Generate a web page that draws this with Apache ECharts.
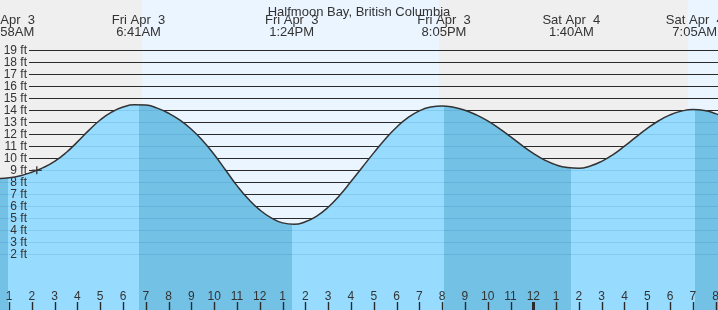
<!DOCTYPE html>
<html><head><meta charset="utf-8">
<script src="https://cdn.jsdelivr.net/npm/echarts@6/dist/echarts.min.js"></script>
<style>html,body{margin:0;padding:0;background:#efefef;overflow:hidden}#c{width:718px;height:310px}</style>
</head><body><div id="c"></div>
<script>
// ---------- data ----------
const chartTitle = 'Halfmoon Bay, British Columbia';
// hours since midnight Fri Apr 3
const tideHours = [0.5,1,1.5,2,2.5,3,3.5,4,4.5,5,5.5,6,6.5,7,7.5,8,8.5,9,9.5,10,10.5,11,11.5,12,12.5,13,13.5,14,14.5,15,15.5,16,16.5,17,17.5,18,18.5,19,19.5,20,20.5,21,21.5,22,22.5,23,23.5,24,24.5,25,25.5,26,26.5,27,27.5,28,28.5,29,29.5,30,30.5,31,31.5,32,32.5];
const tideHeights = [8.32,8.38,8.55,8.84,9.22,9.74,10.46,11.37,12.33,13.19,13.85,14.27,14.46,14.44,14.18,13.76,13.18,12.42,11.47,10.32,9.02,7.72,6.60,5.70,5.04,4.62,4.50,4.71,5.18,5.92,6.91,8.06,9.26,10.45,11.59,12.59,13.39,13.95,14.27,14.36,14.25,14.00,13.62,13.12,12.50,11.80,11.08,10.41,9.85,9.45,9.23,9.17,9.36,9.75,10.31,11.01,11.76,12.49,13.13,13.62,13.93,14.06,13.99,13.72,13.32];
const extremeHours = [0.967, 6.683, 13.4, 20.083, 25.667, 31.083];
const extremeTypes = ['L','H','L','H','L','H'];
const extremeDays = ['Fri Apr  3','Fri Apr  3','Fri Apr  3','Fri Apr  3','Sat Apr  4','Sat Apr  4'];
const extremeClock = ['12:58AM','6:41AM','1:24PM','8:05PM','1:40AM','7:05AM'];
const sunEvents = [6.83, 19.87, 30.78];       // sunrise, sunset, sunrise
const nowHour = 2.22, nowHeight = 9.0;
const ftLevels = [2,3,4,5,6,7,8,9,10,11,12,13,14,15,16,17,18,19];
const hourTicks = [1,2,3,4,5,6,7,8,9,10,11,12,13,14,15,16,17,18,19,20,21,22,23,24,25,26,27,28,29,30,31,32];
const hourMin = 0, hourMax = 33, ftMin = -3, ftMax = 24;

// ---------- layout / style ----------
const W = 718, H = 310;
const PX_H = 22.796, X_H0 = -13.8;   // pixel x of hour 0
const PX_FT = 12, Y_FT0 = 278.3;     // pixel y of 0 ft
const TICK_TOP = 302;
const FONT = '"Liberation Sans", Arial, sans-serif';
const C = {night:'#efefef', day:'#ebf5ff', light:'#97dcff', dark:'#73c1e5',
           grid:'#2a2a2a', inner:'rgba(0,80,140,0.12)', text:'#333', curve:'#333'};

const gLeft = X_H0 + hourMin*PX_H, gRight = W - (X_H0 + hourMax*PX_H);
const gTop = Y_FT0 - ftMax*PX_FT, gBottom = H - (Y_FT0 - ftMin*PX_FT);

const tidePairs = tideHours.map((h,i)=>[h, tideHeights[i]]);

// falling tide (high -> low) darker
const pieces = [];
pieces.push({lt: extremeHours[0], color: extremeTypes[0]==='L' ? C.dark : C.light});
for (let i=0;i<extremeHours.length-1;i++)
  pieces.push({gte: extremeHours[i], lt: extremeHours[i+1], color: extremeTypes[i]==='H' ? C.dark : C.light});
pieces.push({gte: extremeHours[extremeHours.length-1], color: extremeTypes[extremeTypes.length-1]==='H' ? C.dark : C.light});

// night/day bands
const bandEdges = [hourMin].concat(sunEvents, [hourMax]);
const bands = [];
for (let i=0;i<bandEdges.length-1;i++) bands.push([bandEdges[i], bandEdges[i+1], i%2]); // 0 night, 1 day

function segmentsAbove(level){
  const segs=[]; let s=null;
  for (let i=0;i<tideHours.length;i++){
    const above = tideHeights[i] > level;
    if (i===0){ if (above) s = tideHours[0]; continue; }
    const prevAbove = tideHeights[i-1] > level;
    if (above !== prevAbove){
      const t = tideHours[i-1] + (level - tideHeights[i-1])/(tideHeights[i]-tideHeights[i-1])*(tideHours[i]-tideHours[i-1]);
      if (above) s = t; else { segs.push([s,t]); s=null; }
    }
  }
  if (s!==null) segs.push([s, tideHours[tideHours.length-1]]);
  return segs;
}

const chart = echarts.init(document.getElementById('c'), null, {renderer:'canvas', width:W, height:H});
chart.setOption({
  animation:false,
  backgroundColor: C.night,
  title:{text:chartTitle, left:'center', top:1, textStyle:{fontSize:13, fontWeight:'normal', color:C.text, fontFamily:FONT}},
  grid:[
    {left:gLeft, right:gRight, top:gTop, bottom:gBottom, containLabel:false, outerBoundsMode:'none'},
    {left:29, right:gRight, top:gTop, bottom:gBottom, containLabel:false, outerBoundsMode:'none'}
  ],
  xAxis:[
    {gridIndex:0, type:'value', min:hourMin, max:hourMax, interval:1, position:'bottom', z:6,
     axisLine:{show:false, onZero:false}, splitLine:{show:false}, axisTick:{show:false},
     axisLabel:{show:true, inside:true, margin:12, fontSize:12, color:C.text, fontFamily:FONT, lineHeight:12,
       formatter:v=>String((v%12)||12)}},
    {gridIndex:1, type:'value', min:0, max:1, show:false, axisLine:{onZero:false}, splitLine:{show:false}}
  ],
  yAxis:[
    {gridIndex:0, type:'value', min:ftMin, max:ftMax, interval:1, show:false, axisLine:{onZero:false}, splitLine:{show:false}},
    {gridIndex:1, type:'value', min:ftMin, max:ftMax, interval:1, position:'left', z:6,
     axisLine:{show:false, onZero:false}, axisTick:{show:false}, splitLine:{show:false},
     axisLabel:{show:true, margin:2, fontSize:12, color:C.text, fontFamily:FONT,
       formatter:v=>(ftLevels.indexOf(v)>=0 ? v+' ft' : '')}}
  ],
  visualMap:{type:'piecewise', show:false, dimension:0, seriesIndex:2, pieces:pieces},
  series:[
    // day / night background
    {type:'custom', xAxisIndex:0, yAxisIndex:0, z:0, silent:true, data:bands,
     renderItem:(params, api)=>{
       const x1 = api.coord([api.value(0), 0])[0], x2 = api.coord([api.value(1), 0])[0];
       const cs = params.coordSys;
       return {type:'rect', shape:{x:x1, y:cs.y, width:x2-x1, height:cs.height},
               style:{fill: api.value(2)===1 ? C.day : C.night}};
     }},
    // black level lines (start right of the labels)
    {type:'custom', xAxisIndex:1, yAxisIndex:1, z:1, silent:true, data:ftLevels.map(v=>[0, v]),
     renderItem:(params, api)=>{
       const p1 = api.coord([0, api.value(1)]), p2 = api.coord([1, api.value(1)]);
       const y = Math.floor(p1[1]) + 0.5;
       return {type:'line', shape:{x1:p1[0], y1:y, x2:p2[0], y2:y}, style:{stroke:C.grid, lineWidth:1}};
     }},
    // water area
    {type:'line', xAxisIndex:0, yAxisIndex:0, z:2, data:tidePairs, smooth:true, showSymbol:false, silent:true,
     lineStyle:{width:0, opacity:0}, areaStyle:{opacity:1, origin:'start'}},
    // level lines inside water
    {type:'custom', xAxisIndex:0, yAxisIndex:0, z:3, silent:true, data:ftLevels.map(v=>[hourMin, v]),
     renderItem:(params, api)=>{
       const level = api.value(1);
       const children = segmentsAbove(level).map(seg=>{
         const p1 = api.coord([seg[0], level]), p2 = api.coord([seg[1], level]);
         const y = Math.floor(p1[1]) + 0.5;
         return {type:'line', shape:{x1:p1[0], y1:y, x2:p2[0], y2:y}, style:{stroke:C.inner, lineWidth:1}};
       });
       return {type:'group', children:children};
     }},
    // tide curve
    {type:'line', xAxisIndex:0, yAxisIndex:0, z:4, data:tidePairs, smooth:true, showSymbol:false, silent:true,
     lineStyle:{width:1.5, color:C.curve}},
    // current time marker
    {type:'custom', xAxisIndex:0, yAxisIndex:0, z:5, silent:true, data:[[nowHour, nowHeight]],
     renderItem:(params, api)=>{
       const p = api.coord([api.value(0), api.value(1)]);
       return {type:'group', children:[
         {type:'line', shape:{x1:p[0]-5, y1:p[1], x2:p[0]+5, y2:p[1]}, style:{stroke:C.curve, lineWidth:1.3}},
         {type:'line', shape:{x1:p[0], y1:p[1]-4, x2:p[0], y2:p[1]+4}, style:{stroke:C.curve, lineWidth:1.3}}
       ]};
     }},
    // high / low labels
    {type:'custom', xAxisIndex:0, yAxisIndex:0, z:5, silent:true, data:extremeHours.map((h,i)=>[h,i]),
     renderItem:(params, api)=>{
       const i = api.value(1);
       const x = api.coord([api.value(0), 0])[0];
       return {type:'text', x:x, y:14,
         style:{text: extremeDays[i]+'\n'+extremeClock[i], align:'center', textAlign:'center',
                verticalAlign:'top', textVerticalAlign:'top', font:'13px '+FONT, fill:C.text, lineHeight:12}};
     }},
    // hour ticks (midnight tick thicker), all drawn in one group
    {type:'custom', xAxisIndex:0, yAxisIndex:0, z:8, silent:true, clip:false, data:[[hourMin, 0]],
     renderItem:(params, api)=>{
       const children = hourTicks.map(h=>{
         const x = Math.round(api.coord([h, 0])[0]);
         const w = (h % 24 === 0) ? 3 : 1.4;
         return {type:'rect', shape:{x:x - w/2 + 0.5, y:TICK_TOP, width:w, height:H - TICK_TOP},
                 style:{fill:'#2a2a2a'}};
       });
       return {type:'group', children:children};
     }}
  ]
});
</script></body></html>
